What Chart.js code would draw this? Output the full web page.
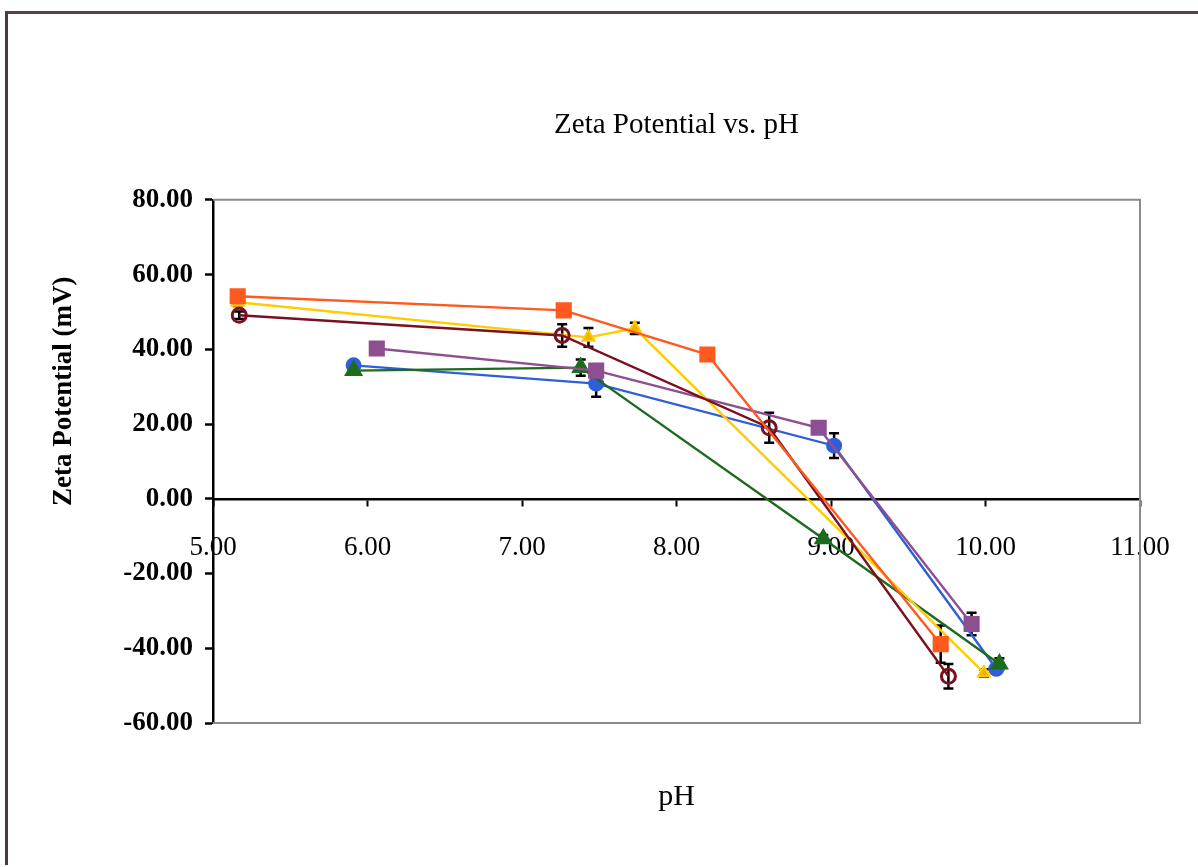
<!DOCTYPE html>
<html>
<head>
<meta charset="utf-8">
<script src="https://cdn.jsdelivr.net/npm/chart.js@4/dist/chart.umd.min.js"></script>
<style>
  html, body { margin: 0; padding: 0; background: #fff; }
  #wrap { position: relative; width: 1198px; height: 867px; }
  #frame { position: absolute; left: 5px; top: 11px; right: -10px; bottom: 2px;
           border-top: 3px solid #5a4040; border-left: 3px solid #4a3a3a; }
  canvas { position: absolute; left: 0; top: 0; }
</style>
</head>
<body>
<div id="wrap">
  <div id="frame"></div>
  <canvas id="chart" width="1198" height="867"></canvas>
</div>
<script>
// values (pH, mV, +/- error)
const orangeX = [5.16, 7.27, 8.20, 9.71];
const orangeY = [54.2, 50.4, 38.6, -38.9];
const orangeErr = [1.0, 1.0, 1.0, 5.0];

const yellowX = [5.16, 7.43, 7.73, 9.99];
const yellowY = [52.6, 43.2, 45.6, -46.6];
const yellowErr = [1.0, 2.5, 1.5, 1.0];

const maroonX = [5.17, 7.26, 8.60, 9.76];
const maroonY = [49.1, 43.7, 19.0, -47.5];
const maroonErr = [1.0, 3.0, 4.0, 3.3];

const purpleX = [6.06, 7.48, 8.92, 9.91];
const purpleY = [40.2, 34.3, 19.0, -33.5];
const purpleErr = [1.0, 1.0, 1.0, 3.0];

const blueX = [5.91, 7.48, 9.02, 10.07];
const blueY = [35.7, 30.8, 14.2, -45.5];
const blueErr = [1.0, 3.5, 3.3, 1.0];

const greenX = [5.91, 7.38, 8.95, 10.09];
const greenY = [34.3, 35.1, -10.7, -44.2];
const greenErr = [1.0, 2.2, 1.0, 1.5];

const xTicks = [5, 6, 7, 8, 9, 10, 11];
const yTicks = [-60, -40, -20, 0, 20, 40, 60, 80];

const serif = "'Liberation Serif', 'Times New Roman', serif";

function series(xs, ys, errs, color, style, radius, fill, bw) {
  return {
    data: xs.map((x, i) => ({ x: x, y: ys[i] })),
    errors: errs,
    showLine: true,
    borderColor: color,
    backgroundColor: fill || color,
    borderWidth: 2.4,
    pointStyle: style,
    pointRadius: radius,
    pointBorderWidth: bw || 2,
    pointBorderColor: color,
    pointBackgroundColor: fill || color
  };
}

// black I-shaped error bars through the library's scales (under the markers)
const errorBars = {
  id: 'errorBars',
  beforeDatasetsDraw(chart) {
    const ctx = chart.ctx;
    const xs = chart.scales.x, ys = chart.scales.y;
    ctx.save();
    ctx.strokeStyle = '#000';
    ctx.lineWidth = 2.5;
    chart.data.datasets.forEach(ds => {
      ds.data.forEach((p, i) => {
        const e = ds.errors[i];
        const px = xs.getPixelForValue(p.x);
        const top = ys.getPixelForValue(p.y + e);
        const bot = ys.getPixelForValue(p.y - e);
        ctx.beginPath();
        ctx.moveTo(px, top); ctx.lineTo(px, bot);
        ctx.moveTo(px - 5, top); ctx.lineTo(px + 5, top);
        ctx.moveTo(px - 5, bot); ctx.lineTo(px + 5, bot);
        ctx.stroke();
      });
    });
    ctx.restore();
  }
};

// grey frame round the plot area + rotated y title
const plotFrame = {
  id: 'plotFrame',
  beforeDatasetsDraw(chart) {
    const { ctx, chartArea: a } = chart;
    ctx.save();
    ctx.strokeStyle = '#8e8690';
    ctx.lineWidth = 2;
    ctx.beginPath();
    ctx.moveTo(a.left, a.top); ctx.lineTo(a.right, a.top);
    ctx.lineTo(a.right, a.bottom); ctx.lineTo(a.left, a.bottom);
    ctx.stroke();
    ctx.restore();
  },
  afterDraw(chart) {
    const { ctx, chartArea: a } = chart;
    ctx.save();
    ctx.translate(64, a.top + (a.bottom - a.top) * 0.366);
    ctx.rotate(-Math.PI / 2);
    ctx.font = 'bold 27px ' + serif;
    ctx.fillStyle = '#000';
    ctx.textAlign = 'center';
    ctx.textBaseline = 'middle';
    ctx.fillText('Zeta Potential (mV)', 0, 0);
    ctx.restore();
  }
};

const ctx = document.getElementById('chart').getContext('2d');
// first dataset is drawn on top
const chart = new Chart(ctx, {
  type: 'scatter',
  data: {
    datasets: [
      series(orangeX, orangeY, orangeErr, '#ff5a1e', 'rect', 10),
      series(maroonX, maroonY, maroonErr, '#7a1020', 'circle', 7, 'rgba(255,255,255,0)', 3),
      series(yellowX, yellowY, yellowErr, '#ffcc00', 'triangle', 7, '#f0b000'),
      series(purpleX, purpleY, purpleErr, '#8e4f90', 'rect', 10),
      series(greenX, greenY, greenErr, '#1d6b1d', 'triangle', 9),
      series(blueX, blueY, blueErr, '#2f5fd6', 'circle', 7)
    ]
  },
  options: {
    responsive: false,
    animation: false,
    layout: { padding: { left: 40, right: 58, top: 0, bottom: 48 } },
    plugins: {
      legend: { display: false },
      tooltip: { enabled: false },
      title: {
        display: true,
        text: 'Zeta Potential vs. pH',
        fullSize: false,
        color: '#000',
        font: { family: serif, size: 29, weight: 'normal' },
        padding: { top: 108, bottom: 57 }
      }
    },
    scales: {
      x: {
        type: 'linear',
        position: { y: 0 },
        min: 5, max: 11,
        afterBuildTicks: s => { s.ticks = xTicks.map(v => ({ value: v })); },
        ticks: {
          color: '#000',
          padding: 27,
          font: { family: serif, size: 27 },
          callback: v => v.toFixed(2)
        },
        grid: { drawOnChartArea: false, drawTicks: true, tickLength: 6, color: '#000', tickWidth: 2 },
        border: { display: true, color: '#000', width: 2.5 }
      },
      x2: {
        type: 'linear',
        position: 'bottom',
        min: 5, max: 11,
        ticks: { display: false },
        grid: { display: false },
        border: { display: false },
        title: {
          display: true,
          text: 'pH',
          color: '#000',
          font: { family: serif, size: 30 },
          padding: { top: 48, bottom: 4 }
        }
      },
      y: {
        type: 'linear',
        min: -60, max: 80,
        afterBuildTicks: s => { s.ticks = yTicks.map(v => ({ value: v })); },
        afterFit: s => { s.width = 173; },
        ticks: {
          color: '#000',
          padding: 12,
          font: { family: serif, size: 27, weight: 'bold' },
          callback: v => v.toFixed(2)
        },
        grid: { drawOnChartArea: false, drawTicks: true, tickLength: 8, color: '#000', tickWidth: 2.5 },
        border: { display: true, color: '#000', width: 2.5 }
      }
    }
  },
  plugins: [plotFrame, errorBars]
});
</script>
</body>
</html>
